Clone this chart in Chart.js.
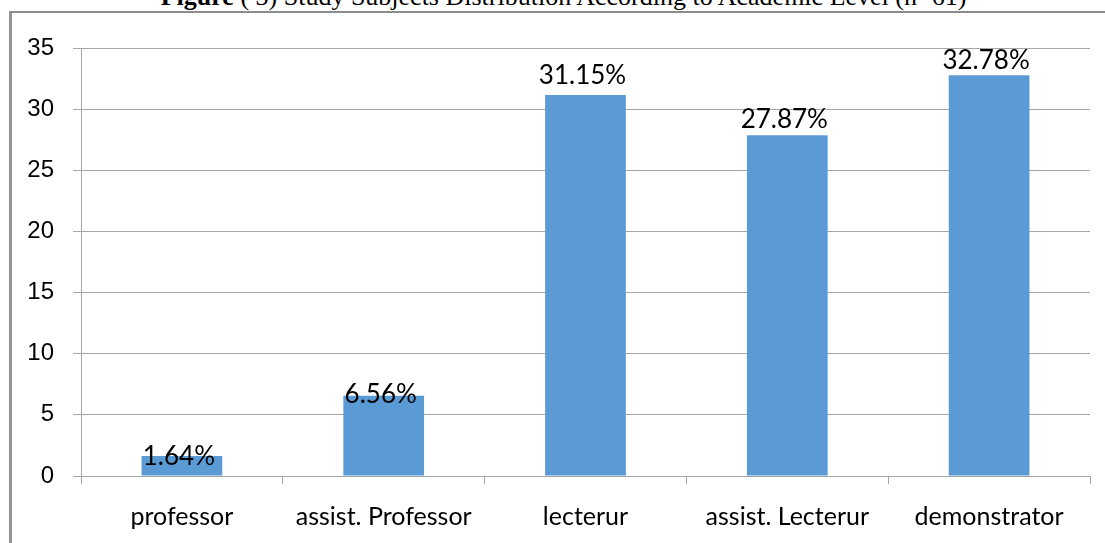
<!DOCTYPE html>
<html>
<head>
<meta charset="utf-8">
<script src="https://cdn.jsdelivr.net/npm/chart.js@4.4.0/dist/chart.umd.min.js"></script>
<style>
  html, body { margin: 0; padding: 0; background: #fff; overflow: hidden; }
  #wrap { position: relative; width: 1105px; height: 543px; }
  #title {
    position: absolute; left: 0; width: 1127px; top: -16px;
    text-align: center; font-family: "Liberation Serif", "Times New Roman", serif;
    font-size: 26px; line-height: 26px; color: #000; white-space: nowrap;
  }
  #frame {
    position: absolute; left: 9px; top: 11px; width: 1200px; height: 600px;
    border-left: 3px solid #949494; border-top: 2px solid #8c8c8c;
  }
  canvas { position: absolute; left: 0; top: 0; }
</style>
</head>
<body>
<div id="wrap">
  <div id="title"><b>Figure</b> ( 3) Study Subjects Distribution According to Academic Level (n=61)</div>
  <div id="frame"></div>
  <canvas id="chart" width="1105" height="543"></canvas>
</div>
<script>
const categories = ["professor", "assist. Professor", "lecterur", "assist. Lecterur", "demonstrator"];
const percents = [1.64, 6.56, 31.15, 27.87, 32.78];
const yTicks = [0, 5, 10, 15, 20, 25, 30, 35];

const gridColor = "#a6a6a6";

// labels sit on top of the bars, nudged like in the original
const barLabels = {
    id: "barLabels",
    afterDatasetsDraw(chart, args, opts) {
        const ctx = chart.ctx;
        const meta = chart.getDatasetMeta(0);
        ctx.save();
        ctx.font = "26px Lato";
        ctx.fillStyle = "#000";
        ctx.textAlign = "center";
        ctx.textBaseline = "alphabetic";
        meta.data.forEach((bar, i) => {
            const shift = opts.shift[i] || 0;
            ctx.fillText(percents[i].toFixed(2) + "%", bar.x - 3, bar.y + shift);
        });
        ctx.restore();
    }
};

new Chart(document.getElementById("chart"), {
    type: "bar",
    data: {
        labels: categories,
        datasets: [{
            data: percents,
            backgroundColor: "#5b9bd5",
            borderWidth: 0,
            barPercentage: 0.4,
            categoryPercentage: 1.0
        }]
    },
    options: {
        responsive: false,
        animation: false,
        layout: { padding: { left: 0, top: 48, right: 15, bottom: 0 } },
        plugins: {
            legend: { display: false },
            tooltip: { enabled: false },
            barLabels: { shift: [9, 7, -11, -7, -6] }
        },
        scales: {
            y: {
                min: 0,
                max: 35,
                afterFit: s => { s.width = 81; },
                afterBuildTicks: s => { s.ticks = yTicks.map(v => ({ value: v })); },
                grid: { color: gridColor, lineWidth: 1, tickLength: 8, drawTicks: true },
                border: { display: true, color: gridColor, width: 1 },
                ticks: {
                    padding: 19,
                    color: "#000",
                    font: { family: "Liberation Sans", size: 24 }
                }
            },
            x: {
                afterFit: s => { s.height = 67; },
                offset: true,
                grid: { offset: true, drawOnChartArea: false, drawTicks: true, tickLength: 8, color: gridColor },
                border: { display: true, color: gridColor, width: 1 },
                ticks: {
                    padding: 18,
                    color: "#000",
                    maxRotation: 0,
                    autoSkip: false,
                    font: { family: "Lato", size: 25 }
                }
            }
        }
    },
    plugins: [barLabels]
});
</script>
</body>
</html>
